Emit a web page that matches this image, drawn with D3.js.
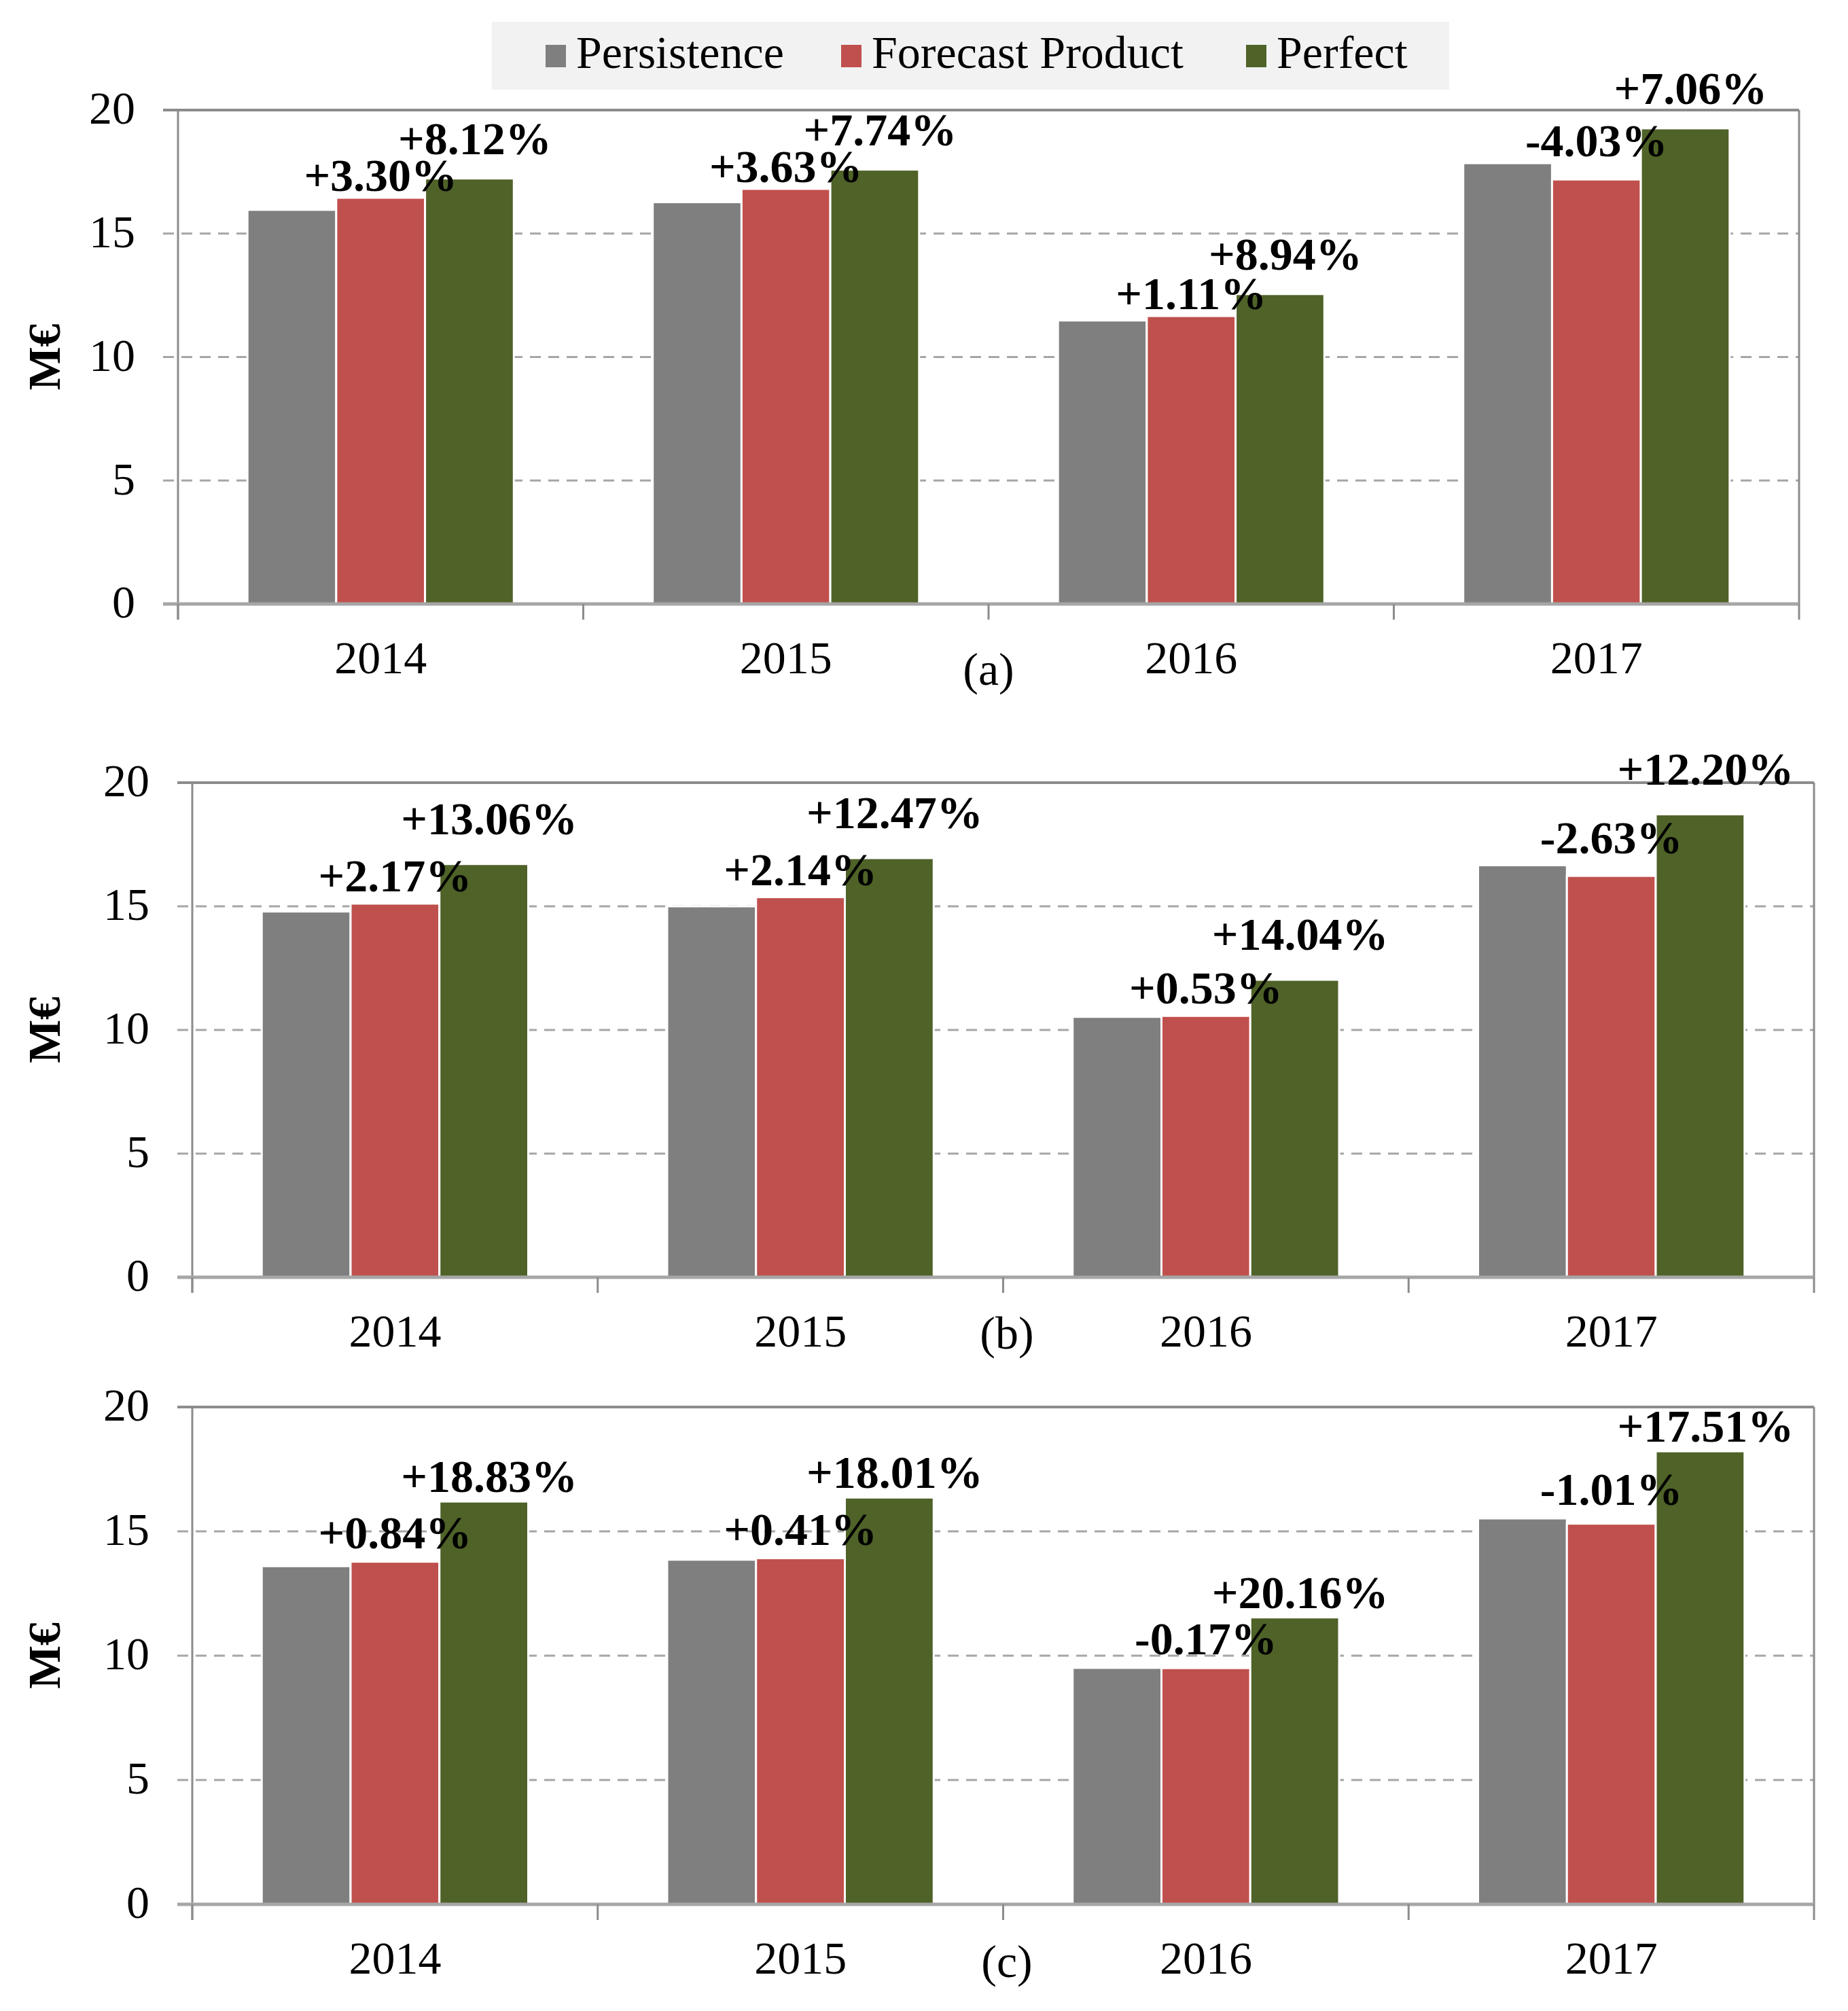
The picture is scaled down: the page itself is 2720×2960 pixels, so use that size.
<!DOCTYPE html>
<html>
<head>
<meta charset="utf-8">
<script src="https://cdn.jsdelivr.net/npm/d3@7"></script>
<style>
  html, body { margin: 0; padding: 0; background: #ffffff; }
  svg { display: block; }
  text { font-family: "Liberation Serif", "Times New Roman", serif; }
</style>
</head>
<body>
<svg id="chart" width="2720" height="2960"></svg>
<script>
// ---------------- DATA ----------------
const years = ["2014", "2015", "2016", "2017"];
const seriesNames = ["Persistence", "Forecast Product", "Perfect"];
const yTicks = [0, 5, 10, 15, 20];

// Panel (a)
const aPersistence = [15.96, 16.27, 11.48, 17.85];
const aForecast    = [16.45, 16.81, 11.66, 17.19];
const aPerfect     = [17.23, 17.59, 12.55, 19.26];
const aForecastLbl = ["+3.30%", "+3.63%", "+1.11%", "-4.03%"];
const aPerfectLbl  = ["+8.12%", "+7.74%", "+8.94%", "+7.06%"];

// Panel (b)
const bPersistence = [14.79, 15.00, 10.53, 16.66];
const bForecast    = [15.11, 15.37, 10.57, 16.23];
const bPerfect     = [16.71, 16.95, 12.03, 18.72];
const bForecastLbl = ["+2.17%", "+2.14%", "+0.53%", "-2.63%"];
const bPerfectLbl  = ["+13.06%", "+12.47%", "+14.04%", "+12.20%"];

// Panel (c)
const cPersistence = [13.60, 13.86, 9.51, 15.52];
const cForecast    = [13.78, 13.92, 9.50, 15.31];
const cPerfect     = [16.20, 16.36, 11.54, 18.22];
const cForecastLbl = ["+0.84%", "+0.41%", "-0.17%", "-1.01%"];
const cPerfectLbl  = ["+18.83%", "+18.01%", "+20.16%", "+17.51%"];

const panelTags = ["(a)", "(b)", "(c)"];
const yAxisTitle = "M€";

// ---------------- STYLE / LAYOUT ----------------
const colors = ["#7f7f7f", "#c0504d", "#4f6228"];
const axisColor = "#8c8c8c";
const gridColor = "#a6a6a6";
const fontSize = 68;

const panels = [
  { left: 262, right: 2648, top: 162, bottom: 889, vals: [aPersistence, aForecast, aPerfect],
    lbls: [aForecastLbl, aPerfectLbl], tag: panelTags[0], redOff: 10, greenOff: 36, tagX: 1455, tagY: 1008 },
  { left: 283, right: 2670, top: 1152, bottom: 1880, vals: [bPersistence, bForecast, bPerfect],
    lbls: [bForecastLbl, bPerfectLbl], tag: panelTags[1], redOff: 18, greenOff: 44, tagX: 1482, tagY: 1985 },
  { left: 283, right: 2670, top: 2071, bottom: 2803, vals: [cPersistence, cForecast, cPerfect],
    lbls: [cForecastLbl, cPerfectLbl], tag: panelTags[2], redOff: 20, greenOff: 14, tagX: 1482, tagY: 2910 }
];

const svg = d3.select("#chart");
svg.append("rect").attr("width", 2720).attr("height", 2960).attr("fill", "#ffffff");

// ---------------- LEGEND ----------------
const legend = svg.append("g");
legend.append("rect").attr("x", 724).attr("y", 32).attr("width", 1409).attr("height", 100).attr("fill", "#f2f2f2");
const legendX = [803, 1238, 1834];
seriesNames.forEach((name, i) => {
  legend.append("rect").attr("x", legendX[i]).attr("y", 66).attr("width", 30).attr("height", 33).attr("fill", colors[i]);
  legend.append("text").attr("x", legendX[i] + 45).attr("y", 100)
    .attr("font-size", fontSize).attr("fill", "#000").text(name);
});

// ---------------- PANELS ----------------
panels.forEach(p => {
  const g = svg.append("g");
  const y = d3.scaleLinear().domain([0, 20]).range([p.bottom, p.top]);
  const x0 = d3.scaleBand().domain(years).range([p.left, p.right]).paddingInner(0).paddingOuter(0);
  const x1 = d3.scaleBand().domain(seriesNames).range([0, x0.bandwidth()]).paddingInner(0).paddingOuter(0.782);

  // gridlines (dashed) and tick marks
  yTicks.forEach(t => {
    if (t === 0 || t === 20) return;
    g.append("line").attr("x1", p.left - 22).attr("x2", p.right)
      .attr("y1", y(t)).attr("y2", y(t))
      .attr("stroke", gridColor).attr("stroke-width", 3).attr("stroke-dasharray", "16,11");
  });
  // frame top + right
  g.append("line").attr("x1", p.left - 22).attr("x2", p.right).attr("y1", y(20)).attr("y2", y(20))
    .attr("stroke", axisColor).attr("stroke-width", 4);
  g.append("line").attr("x1", p.right).attr("x2", p.right).attr("y1", y(20)).attr("y2", y(0))
    .attr("stroke", axisColor).attr("stroke-width", 3);

  // y tick labels
  g.selectAll(".ytl").data(yTicks).enter().append("text")
    .attr("x", p.left - 63).attr("y", d => y(d)).attr("dy", "0.3em")
    .attr("text-anchor", "end").attr("font-size", fontSize).attr("fill", "#000")
    .text(d => d);

  // y-axis title
  g.append("text")
    .attr("transform", `translate(88,${(p.top + p.bottom) / 2}) rotate(-90)`)
    .attr("text-anchor", "middle").attr("font-size", fontSize).attr("font-weight", "bold")
    .attr("fill", "#000").text(yAxisTitle);

  // bars
  years.forEach((yr, i) => {
    seriesNames.forEach((s, k) => {
      const v = p.vals[k][i];
      g.append("rect")
        .attr("x", x0(yr) + x1(s)).attr("y", y(v))
        .attr("width", x1.bandwidth()).attr("height", y(0) - y(v))
        .attr("fill", colors[k]).attr("stroke", "#ffffff").attr("stroke-width", 3);
    });
  });

  // left axis and zero line
  g.append("line").attr("x1", p.left).attr("x2", p.left).attr("y1", y(20)).attr("y2", y(0) + 23)
    .attr("stroke", axisColor).attr("stroke-width", 3);
  g.append("line").attr("x1", p.left - 22).attr("x2", p.right).attr("y1", y(0)).attr("y2", y(0))
    .attr("stroke", gridColor).attr("stroke-width", 5);
  // category ticks at boundaries
  const bounds = years.map(yr => x0(yr)).concat([p.right]);
  bounds.forEach(bx => {
    g.append("line").attr("x1", bx).attr("x2", bx).attr("y1", y(0)).attr("y2", y(0) + 23)
      .attr("stroke", axisColor).attr("stroke-width", 3);
  });

  // category labels
  g.selectAll(".xl").data(years).enter().append("text")
    .attr("x", d => x0(d) + x0.bandwidth() / 2).attr("y", y(0) + 102)
    .attr("text-anchor", "middle").attr("font-size", fontSize).attr("fill", "#000")
    .text(d => d);

  // panel tag
  g.append("text").attr("x", p.tagX).attr("y", p.tagY).attr("text-anchor", "middle")
    .attr("font-size", fontSize).attr("fill", "#000").text(p.tag);

  // data labels
  years.forEach((yr, i) => {
    const redTop = Math.min(y(p.vals[0][i]), y(p.vals[1][i]));
    g.append("text")
      .attr("x", x0(yr) + x1(seriesNames[1]) + x1.bandwidth() / 2)
      .attr("y", redTop - p.redOff)
      .attr("text-anchor", "middle").attr("font-size", fontSize).attr("font-weight", "bold")
      .attr("fill", "#000").text(p.lbls[0][i]);
    g.append("text")
      .attr("x", x0(yr) + x1(seriesNames[2]) + x1.bandwidth() / 2 + 8)
      .attr("y", y(p.vals[2][i]) - p.greenOff)
      .attr("text-anchor", "middle").attr("font-size", fontSize).attr("font-weight", "bold")
      .attr("fill", "#000").text(p.lbls[1][i]);
  });
});
</script>
</body>
</html>
